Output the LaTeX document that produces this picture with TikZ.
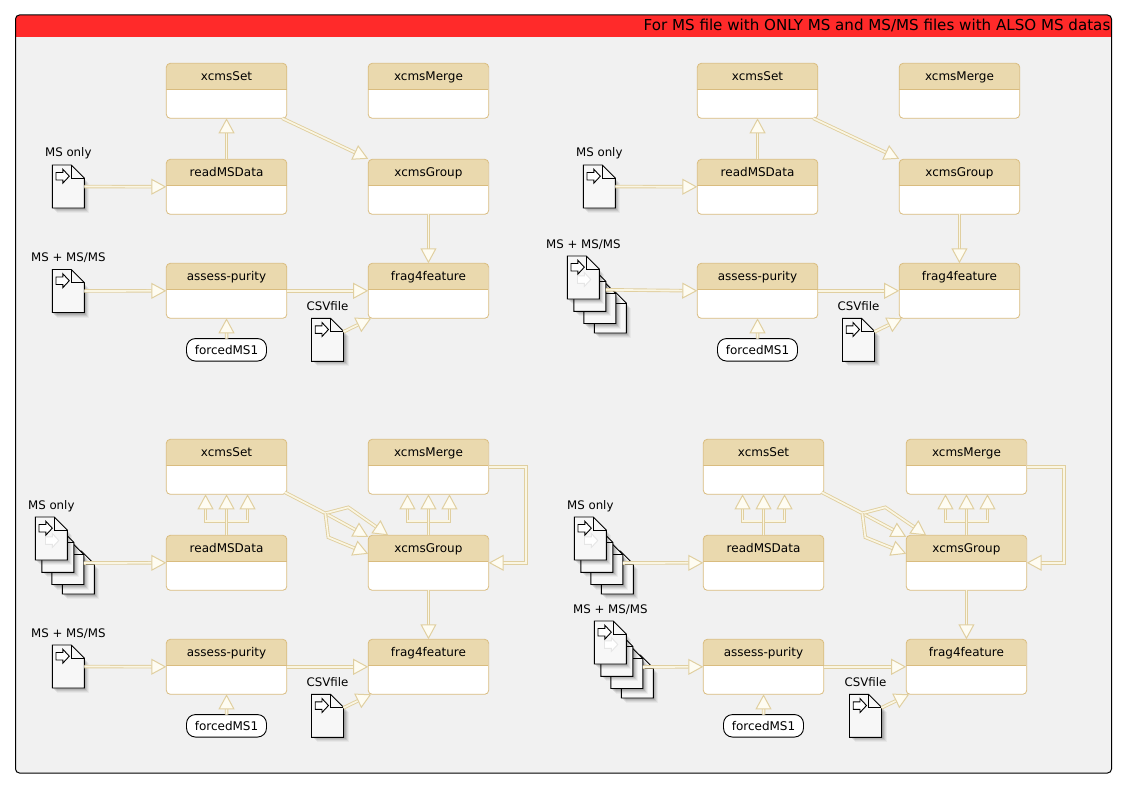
\documentclass[tikz,border=0pt]{standalone}
\usepackage{fontspec}
\setmainfont{DejaVu Sans}
\usetikzlibrary{arrows.meta,calc}
\definecolor{hdrcol}{HTML}{EAD9AE}
\definecolor{boxline}{HTML}{D9BC7F}
\definecolor{linkline}{HTML}{E0CFA0}
\definecolor{linkfill}{HTML}{FAF6E4}
\definecolor{tipfill}{HTML}{FEFCF2}
\definecolor{panelbg}{HTML}{F1F1F1}
\definecolor{titlered}{HTML}{FF2A2A}
\definecolor{ghostcol}{HTML}{E6E6E6}
\definecolor{docfill}{HTML}{F7F7F7}
\tikzset{
  clsnode/.style={draw=boxline,line width=.8pt,fill=white,rounded corners=4pt,minimum width=120.5pt,minimum height=55pt,inner sep=0pt,outer sep=0pt,anchor=north west,
    path picture={\fill[hdrcol,sharp corners] (path picture bounding box.north west) rectangle ($(path picture bounding box.north east)+(0,26.5)$);
      \draw[boxline,line width=.7pt,sharp corners] ($(path picture bounding box.north west)+(0,26.5)$) -- ($(path picture bounding box.north east)+(0,26.5)$);}},
  clstext/.style={font=\fontsize{12}{14}\selectfont,text=black,inner sep=0pt,text height=8.5pt,text depth=2.5pt},
  lbltext/.style={font=\fontsize{11.8}{14}\selectfont,text=black,inner sep=0pt,text height=8.5pt,text depth=2.5pt},
  pillnode/.style={draw=black,line width=.9pt,fill=white,rounded corners=9pt,minimum width=80pt,minimum height=22.5pt,inner sep=0pt,outer sep=0pt,font=\fontsize{12}{14}\selectfont,text=black},
  docnode/.style={minimum width=32pt,minimum height=43pt,inner sep=0pt,outer sep=0pt,anchor=north west},
  docbody/.style={draw=black,line width=.9pt,fill=docfill,line join=miter},
  link/.style={draw=linkline,line width=.9pt,double=linkfill,double distance=1.7pt,line join=miter,
    -{Triangle[length=15pt,width=16pt,fill=tipfill,color=linkline,line width=1pt]}},
  framenode/.style={draw=black,line width=1pt,fill=panelbg,rounded corners=4pt,minimum width=1096pt,minimum height=758pt,inner sep=0pt,outer sep=0pt,anchor=north west,
    path picture={\fill[titlered,sharp corners] (path picture bounding box.north west) rectangle ($(path picture bounding box.north east)+(0,22)$);}},
  titletext/.style={font=\fontsize{15.1}{17}\selectfont,text=black,inner sep=0pt,anchor=east,text height=10.5pt,text depth=3pt},
}
\newcommand\clsbox[4]{%
  \node[clsnode] (#1) at (#2,#3) {};
  \node[clstext] (#1t) at ($(#1.north)+(0,14.5)$) {#4};}
\newcommand\docshape[2]{%
  \begin{scope}[shift={(#1,#2)}]
    \foreach \d/\o in {1/.10,2/.10,3/.08,4/.06,5/.04}{\fill[black,opacity=\o] (\d,13+\d) -- (32+\d,13+\d) -- (32+\d,43+\d) -- (\d,43+\d) -- cycle;}
    \path[docbody] (0,0) -- (19,0) -- (32,13) -- (32,43) -- (0,43) -- cycle;
    \draw[black,line width=.8pt] (19,0) -- (19,13) -- (32,13);
  \end{scope}}
\newcommand\docarrow[3]{%
  \begin{scope}[shift={(#1,#2)}]
    \path[draw=#3,fill=white,line width=.9pt,line join=miter] (3.7,7.5) -- (10.5,7.5) -- (10.5,4.2) -- (17,11.2) -- (10.5,18.2) -- (10.5,15) -- (3.7,15) -- cycle;
  \end{scope}}
\newcommand\docicon[4]{%
  \docshape{#2}{#3}\docarrow{#2}{#3}{black}
  \node[docnode] (#1) at (#2,#3) {};
  \node[lbltext] (#1t) at ($(#1.north)+(0,-11)$) {#4};}
\newcommand\docstack[4]{%
  \docshape{#2+27}{#3+34}
  \docshape{#2+16.5}{#3+24.5}
  \docshape{#2+6.5}{#3+12.3}
  \docshape{#2}{#3}
  \docarrow{#2+6.5}{#3+12.3}{ghostcol}
  \docarrow{#2}{#3}{black}
  \node[docnode] (#1a) at (#2,#3) {};
  \node[docnode] (#1b) at (#2+6.5,#3+12.3) {};
  \node[docnode] (#1c) at (#2+16.5,#3+24.5) {};
  \node[docnode] (#1d) at (#2+27,#3+34) {};
  \node[lbltext] (#1t) at ($(#1a.north)+(0,-11)$) {#4};}
\newcommand\panelboxes[4]{%
  \clsbox{#1xs}{#2}{#4}{xcmsSet}
  \clsbox{#1xm}{#3}{#4}{xcmsMerge}
  \clsbox{#1rm}{#2}{#4+96}{readMSData}
  \clsbox{#1xg}{#3}{#4+96}{xcmsGroup}
  \clsbox{#1ap}{#2}{#4+200}{assess-purity}
  \clsbox{#1fr}{#3}{#4+200}{frag4feature}
  \node[pillnode] (#1fm) at (#2+60.2,#4+286.5) {forcedMS1};
  \draw[link] (#1fm.north) -- (#1ap.south);
  \draw[link] (#1ap.east) -- (#1fr.west);
  \draw[link] (#1xg.south) -- (#1fr.north);}
\newcommand\panelsimple[1]{%
  \draw[link] (#1rm.north) -- (#1xs.south);
  \draw[link] ($(#1xs.south east)+(-4.5,0)$) -- ($(#1xg.north west)+(0,-0.5)$);}
\newcommand\panelcomplex[2]{%
  \foreach \dx in {-21,21}{
    \draw[link] (#1rm.north) -- ($(#1rm.north)+(0,-14)$) -- ($(#1rm.north)+(\dx,-14)$) -- ($(#1xs.south)+(\dx,0)$);
    \draw[link] (#1xg.north) -- ($(#1xg.north)+(0,-14)$) -- ($(#1xg.north)+(\dx,-14)$) -- ($(#1xm.south)+(\dx,0)$);}
  \draw[link] (#1rm.north) -- (#1xs.south);
  \draw[link] (#1xg.north) -- (#1xm.south);
  \coordinate (#1jn) at ($(#1xs.south east)+(38.5,19)$);
  \draw[link] ($(#1xs.south east)+(-2,-2)$) -- (#1jn) -- ($(#1xg.north west)+(0,1.5)$);
  \draw[link] (#1jn) -- ($(#1jn)+(23,-6)$) -- ($(#1xg.north west)+(20,0)$);
  \draw[link] (#1jn) -- ($(#1jn)+(3,24)$) -- ($(#1xg.west)+(0,-9)$);
  \coordinate (#1ea) at ($(#1xm.east)+(#2,0)$);
  \coordinate (#1eb) at ($(#1xg.east)+(#2,0)$);
  \draw[link] (#1xm.east) -- (#1ea) -- (#1eb) -- (#1xg.east);}
\begin{document}
\begin{tikzpicture}[x=1pt,y=-1pt]
\useasboundingbox (0,0) rectangle (1127,789);
\fill[white] (0,0) rectangle (1127,789);
\node[framenode] (frame) at (15.5,15) {};
\node[titletext] (title) at (1110.5,27) {For MS file with ONLY MS and MS/MS files with ALSO MS datas};
% panel 1
\panelboxes{a}{166.3}{368.2}{63.3}
\panelsimple{a}
\docicon{amso}{52.3}{165}{MS only}
\docicon{amsm}{52.3}{269.5}{MS + MS/MS}
\docicon{acsv}{311.5}{318.3}{CSVfile}
\draw[link] (amso.east) -- (arm.west);
\draw[link] (amsm.east) -- (aap.west);
\draw[link] ($(acsv.north east)+(0,13.5)$) -- ($(afr.south west)+(3,0)$);
% panel 2
\panelboxes{b}{697.3}{899.2}{63.3}
\panelsimple{b}
\docicon{bmso}{583.3}{165}{MS only}
\docstack{bmsm}{567.3}{256}{MS + MS/MS}
\docicon{bcsv}{842.5}{318.3}{CSVfile}
\draw[link] (bmso.east) -- (brm.west);
\draw[link] (bmsmb.east) -- (bap.west);
\draw[link] ($(bcsv.north east)+(0,13.5)$) -- ($(bfr.south west)+(3,0)$);
% panel 3
\panelboxes{c}{166.3}{368.2}{439.3}
\panelcomplex{c}{37.5}
\docstack{cmso}{35.3}{517}{MS only}
\docicon{cmsm}{52.3}{645}{MS + MS/MS}
\docicon{ccsv}{311.5}{694.3}{CSVfile}
\draw[link] (cmsoc.east) -- (crm.west);
\draw[link] (cmsm.east) -- (cap.west);
\draw[link] ($(ccsv.north east)+(0,13.5)$) -- ($(cfr.south west)+(3,0)$);
% panel 4
\panelboxes{d}{703.3}{906.2}{439.3}
\panelcomplex{d}{37.5}
\docstack{dmso}{574.3}{517}{MS only}
\docstack{dmsm}{594.3}{621}{MS + MS/MS}
\docicon{dcsv}{849.5}{694.3}{CSVfile}
\draw[link] (dmsoc.east) -- (drm.west);
\draw[link] (dmsmc.east) -- (dap.west);
\draw[link] ($(dcsv.north east)+(0,13.5)$) -- ($(dfr.south west)+(3,0)$);
\end{tikzpicture}
\end{document}
